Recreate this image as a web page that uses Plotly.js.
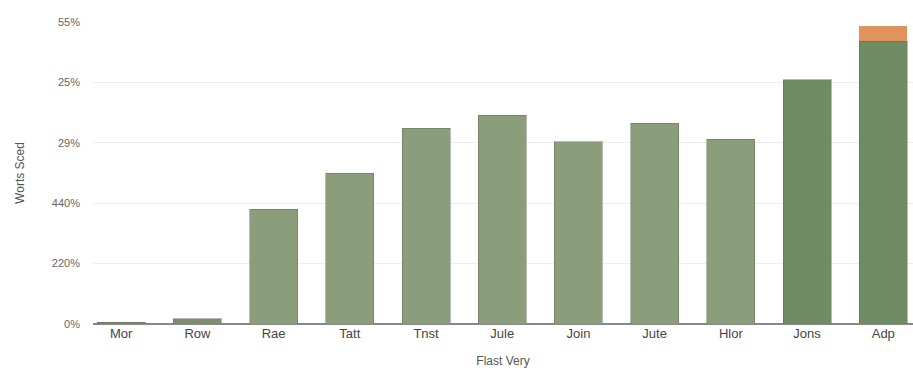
<!DOCTYPE html>
<html>
<head>
<meta charset="utf-8">
<script src="https://cdn.plot.ly/plotly-3.0.1.min.js"></script>
<style>html,body{margin:0;padding:0;background:#fff;}#chart{width:913px;height:375px;}</style>
</head>
<body>
<div id="chart"></div>
<script>
const categories = ['Mor', 'Row', 'Rae', 'Tatt', 'Tnst', 'Jule', 'Join', 'Jute', 'Hlor', 'Jons', 'Adp'];
const mainValues = [1.5, 4.5, 95, 125, 162, 173, 151, 166, 153, 202, 234];
const topValues = [null, null, null, null, null, null, null, null, null, null, 12.5];
const mainColors = ['#7b8870', '#7f8c72', '#8a9e7c', '#8a9e7c', '#8a9e7c', '#8a9e7c', '#8a9e7c', '#8a9e7c', '#8a9e7c', '#6f8c65', '#6f8c65'];
const yTickVals = [0, 50, 100, 150, 200, 250];
const yTickText = ['0%', '220%', '440%', '29%', '25%', '55%'];

const traces = [
  {
    type: 'bar', x: categories, y: mainValues,
    marker: {color: mainColors, line: {color: 'rgba(90,105,80,0.45)', width: 1}},
    hoverinfo: 'x+y', showlegend: false
  },
  {
    type: 'bar', x: categories, y: topValues,
    marker: {color: '#e0935a', line: {width: 0}},
    hoverinfo: 'x+y', showlegend: false
  }
];

const layout = {
  width: 913, height: 375,
  margin: {l: 93, r: 0, t: 22, b: 51},
  paper_bgcolor: '#ffffff', plot_bgcolor: '#ffffff',
  barmode: 'stack', bargap: 0.37,
  font: {family: 'Liberation Sans, Arial, sans-serif', size: 12, color: '#555'},
  xaxis: {
    type: 'category', range: [-0.37, 10.39],
    showgrid: false, showline: false, ticks: '', ticklen: 0,
    tickfont: {size: 13, color: '#444'},
    title: {text: 'Flast Very', font: {size: 12, color: '#555'}, standoff: 16},
    automargin: false
  },
  yaxis: {
    range: [0, 250], tickvals: yTickVals, ticktext: yTickText,
    showgrid: true, gridcolor: '#eeeeee', gridwidth: 1,
    zeroline: true, zerolinecolor: '#888', zerolinewidth: 1.5,
    showline: false, ticks: '', tickfont: {size: 11, color: '#666'},
    ticklabelstandoff: 12,
    title: {text: 'Worts Sced', font: {size: 12, color: '#555'}, standoff: 24},
    automargin: false
  }
};

Plotly.newPlot('chart', traces, layout, {displayModeBar: false, staticPlot: true});
</script>
</body>
</html>
